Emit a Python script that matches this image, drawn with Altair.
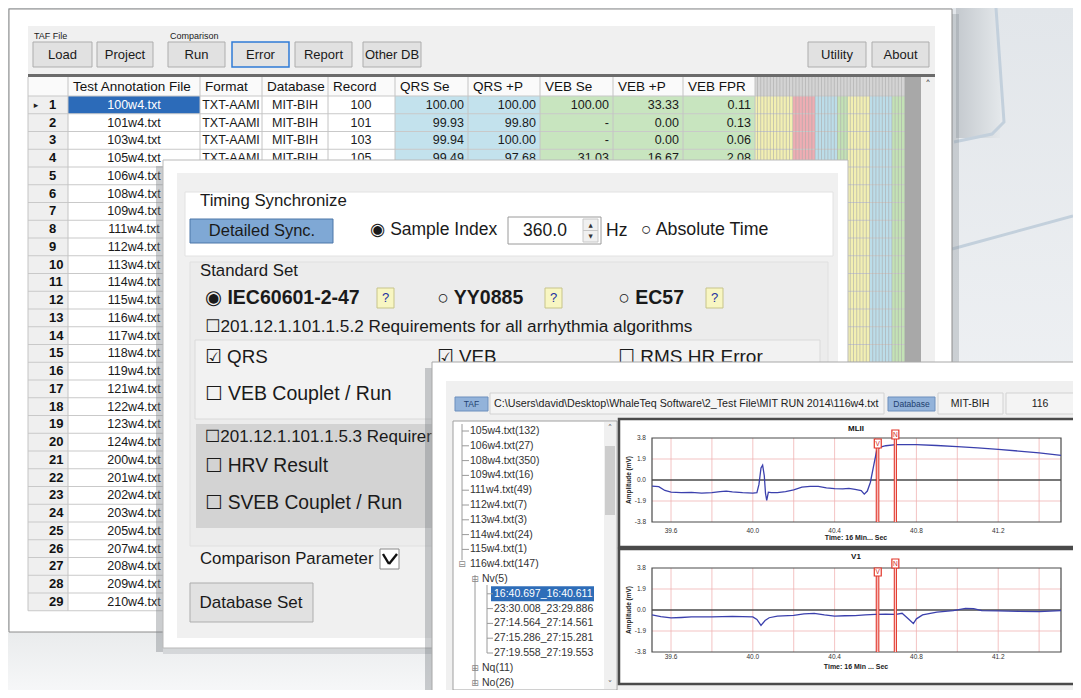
import altair as alt
import pandas as pd
import numpy as np

UI = "Liberation Sans, Arial, sans-serif"
SYM = "DejaVu Sans, Liberation Sans, sans-serif"

# ---------------- data ----------------
group_labels = ["TAF File", "Comparison"]
toolbar_buttons = ["Load", "Project", "Run", "Error", "Report", "Other DB", "Utility", "About"]
table_headers = ["Test Annotation File", "Format", "Database", "Record",
                 "QRS Se", "QRS +P", "VEB Se", "VEB +P", "VEB FPR"]
file_names = ["100w4.txt", "101w4.txt", "103w4.txt", "105w4.txt", "106w4.txt", "108w4.txt",
              "109w4.txt", "111w4.txt", "112w4.txt", "113w4.txt", "114w4.txt", "115w4.txt",
              "116w4.txt", "117w4.txt", "118w4.txt", "119w4.txt", "121w4.txt", "122w4.txt",
              "123w4.txt", "124w4.txt", "200w4.txt", "201w4.txt", "202w4.txt", "203w4.txt",
              "205w4.txt", "207w4.txt", "208w4.txt", "209w4.txt", "210w4.txt"]
record_ids = ["100", "101", "103", "105"]
data_format = ["TXT-AAMI", "TXT-AAMI", "TXT-AAMI", "TXT-AAMI"]
database = ["MIT-BIH", "MIT-BIH", "MIT-BIH", "MIT-BIH"]
qrs_se = ["100.00", "99.93", "99.94", "99.49"]
qrs_p = ["100.00", "99.80", "100.00", "97.68"]
veb_se = ["100.00", "-", "-", "31.03"]
veb_p = ["33.33", "0.00", "0.00", "16.67"]
veb_fpr = ["0.11", "0.13", "0.06", "2.08"]
stripe_colors = ["#f2efb2", "#eeadb3", "#bcdde9", "#c3e2b5", "#f2efb2", "#bcdde9", "#c3e2b5"]

tree_items = [(0, "105w4.txt(132)"), (0, "106w4.txt(27)"), (0, "108w4.txt(350)"),
              (0, "109w4.txt(16)"), (0, "111w4.txt(49)"), (0, "112w4.txt(7)"),
              (0, "113w4.txt(3)"), (0, "114w4.txt(24)"), (0, "115w4.txt(1)"),
              (0, "116w4.txt(147)"), (1, "Nv(5)"), (2, "16:40.697_16:40.611"),
              (2, "23:30.008_23:29.886"), (2, "27:14.564_27:14.561"),
              (2, "27:15.286_27:15.281"), (2, "27:19.558_27:19.553"),
              (1, "Nq(11)"), (1, "No(26)")]
taf_path = r"C:\Users\david\Desktop\WhaleTeq Software\2_Test File\MIT RUN 2014\116w4.txt"
lead_names = ["MLII", "V1"]
time_ticks = [39.6, 40.0, 40.4, 40.8, 41.2]
time_grid = [39.6, 39.8, 40.0, 40.2, 40.4, 40.6, 40.8, 41.0, 41.2, 41.4]
amp_ticks = [3.8, 1.9, 0.0, -1.9, -3.8]
marker_times = [40.611, 40.697]
marker_labels = ["V", "N"]

mlii_t = [39.507, 39.54, 39.57, 39.60, 39.65, 39.70, 39.75, 39.80, 39.84, 39.87, 39.90, 39.95,
          40.00, 40.02, 40.03, 40.04, 40.048, 40.056, 40.062, 40.068, 40.076, 40.09, 40.12,
          40.16, 40.20, 40.24, 40.28, 40.32, 40.36, 40.40, 40.44, 40.47, 40.50, 40.53, 40.545,
          40.56, 40.575, 40.59, 40.605, 40.62, 40.65, 40.70, 40.80, 40.90, 41.00, 41.10, 41.20,
          41.30, 41.40, 41.507]
mlii_v = [-0.55, -0.60, -0.95, -1.10, -1.15, -1.12, -1.18, -1.15, -1.05, -1.00, -1.08, -1.15,
          -1.18, -1.15, -0.40, 1.10, 1.35, 0.40, -1.20, -1.85, -1.10, -1.15, -1.15,
          -1.05, -0.90, -0.65, -0.58, -0.58, -0.72, -0.78, -0.80, -0.75, -0.85, -0.95, -1.28,
          -1.00, -0.20, 1.20, 2.60, 2.95, 3.10, 3.20, 3.20, 3.12, 3.02, 2.90, 2.78,
          2.62, 2.45, 2.22]
v1_t = [39.507, 39.55, 39.60, 39.65, 39.70, 39.80, 39.90, 40.00, 40.02, 40.04, 40.06, 40.08,
        40.12, 40.20, 40.25, 40.30, 40.35, 40.40, 40.45, 40.50, 40.55, 40.60, 40.65, 40.70,
        40.73, 40.76, 40.785, 40.80, 40.83, 40.90, 40.98, 41.04, 41.08, 41.12, 41.20, 41.30,
        41.40, 41.507]
v1_v = [-0.45, -0.60, -0.72, -0.68, -0.62, -0.62, -0.58, -0.62, -0.85, -1.40, -0.95, -0.70,
        -0.55, -0.48, -0.35, -0.30, -0.45, -0.55, -0.52, -0.50, -0.45, -0.40, -0.38, -0.40,
        -0.30, -0.80, -1.22, -0.80, -0.45, -0.20, -0.05, 0.15, 0.12, -0.05, -0.08, -0.12,
        -0.15, -0.05]

# ---------------- scales & helpers ----------------
PX = alt.Scale(domain=[8, 1073], range=[0, 1065], nice=False, zero=False)
PY = alt.Scale(domain=[8, 690], range=[0, 682], nice=False, zero=False)
T_DOM = [39.507, 41.507]
T_RANGE = [652 - 8, 1061 - 8]


def px(f="x"):
    return alt.X(f"{f}:Q", scale=PX, axis=None)


def py(f="y"):
    return alt.Y(f"{f}:Q", scale=PY, axis=None)


def R(x, x2, y, y2, fill, stroke="transparent", sw=0.0, op=1.0):
    return dict(x=x, x2=x2, y=y, y2=y2, fill=fill, stroke=stroke, sw=sw, op=op)


def TX(x, y, t, s, c="#1a1a1a"):
    return dict(x=x, y=y, t=t, s=s, c=c)


def L(x, x2, y, y2, c, w=1.0):
    return dict(x=x, x2=x2, y=y, y2=y2, c=c, w=w)


def rect_layer(rows):
    return alt.Chart(pd.DataFrame(rows)).mark_rect().encode(
        x=px(), x2=alt.X2("x2"), y=py(), y2=alt.Y2("y2"),
        fill=alt.Fill("fill:N", scale=None, legend=None),
        stroke=alt.Stroke("stroke:N", scale=None, legend=None),
        strokeWidth=alt.StrokeWidth("sw:Q", scale=None, legend=None),
        opacity=alt.Opacity("op:Q", scale=None, legend=None))


def text_layer(rows, align="left", weight="normal", font=UI, angle=0):
    return alt.Chart(pd.DataFrame(rows)).mark_text(
        align=align, baseline="middle", fontWeight=weight, font=font, angle=angle).encode(
        x=px(), y=py(), text=alt.Text("t:N"),
        size=alt.Size("s:Q", scale=None, legend=None),
        color=alt.Color("c:N", scale=None, legend=None))


def rule_layer(rows):
    return alt.Chart(pd.DataFrame(rows)).mark_rule().encode(
        x=px(), x2=alt.X2("x2"), y=py(), y2=alt.Y2("y2"),
        color=alt.Color("c:N", scale=None, legend=None),
        strokeWidth=alt.StrokeWidth("w:Q", scale=None, legend=None))


def grad(c1, c2, horizontal=True):
    return alt.LinearGradient(gradient="linear",
                              stops=[alt.GradientStop(color=c1, offset=0),
                                     alt.GradientStop(color=c2, offset=1)],
                              x1=0, y1=0, x2=1 if horizontal else 0, y2=0 if horizontal else 1)


def grad_rect(x, x2, y, y2, c1, c2, horizontal=True, op=1.0):
    return alt.Chart(pd.DataFrame([dict(x=x, x2=x2, y=y, y2=y2)])).mark_rect(
        fill=grad(c1, c2, horizontal), opacity=op).encode(
        x=px(), x2=alt.X2("x2"), y=py(), y2=alt.Y2("y2"))


layers = []

# ---------------- background ----------------
layers.append(grad_rect(8, 1073, 8, 690, "#cdd1d4", "#eef0f2"))
layers.append(grad_rect(8, 440, 630, 690, "#e9ebec", "#f6f7f8", horizontal=False))
layers.append(grad_rect(952, 1073, 8, 690, "#e2e6ea", "#f7f8fa", horizontal=False))
layers.append(grad_rect(956, 1000, 8, 138, "#c4c9ce", "#e3e7ea"))
edge_pts = pd.DataFrame(dict(
    x=[996, 1004, 992, 954, 952, 1073],
    y=[8, 122, 134, 142, 249, 216],
    g=["a", "a", "a", "a", "b", "b"],
    o=[0, 1, 2, 3, 0, 1]))
layers.append(alt.Chart(edge_pts).mark_line(color="#c3d0dc", strokeWidth=3).encode(
    x=px(), y=py(), detail="g:N", order="o:Q"))

# ---------------- main window ----------------
ROW0, RH = 96.0, 17.75
row_c = [ROW0 + (i + 0.5) * RH for i in range(len(file_names))]
TB = ROW0 + len(file_names) * RH
col_edges = [28, 68, 200, 262, 328, 395, 468, 540, 613, 683, 755]
btn_x = [(33, 92), (97, 153), (168, 225), (232, 289), (295, 352), (363, 421), (808, 866), (872, 929)]
stripe_x = [755, 793, 815, 837, 848, 870, 892, 905]

r1 = [R(952, 959, 14, 636, "#8d949a", op=0.35),
      R(9, 952, 9, 632, "#ffffff", "#8c8c8c", 1),
      R(28, 935, 26, 74, "#f0f0f0")]
for (a, b), name in zip(btn_x, toolbar_buttons):
    if name == "Error":
        r1.append(R(a, b, 42, 67, "#e3e3e3", "#2f7bd6", 1.5))
    else:
        r1.append(R(a, b, 42, 67, "#e1e1e1", "#adadad", 1))
r1 += [R(28, 935, 74, 77, "#6b6b6b"),
       R(28, 905, 77, 96, "#fafafa"),
       R(28, 68, 96, TB, "#efefef"),
       R(68, 200, 96, 96 + RH, "#2c6bb9"),
       R(395, 540, 96, TB, "#c3e2ed"),
       R(540, 755, 96, TB, "#c8e5bf")]
for i, col in enumerate(stripe_colors):
    r1.append(R(stripe_x[i], stripe_x[i + 1], 96, TB, col))
r1 += [R(755, 905, 77, 96, "#d4d4d4"),
       R(905, 921, 77, 628, "#a8a8a8"),
       R(921, 935, 77, 628, "#f0f0f0")]
layers.append(rect_layer(r1))

l1 = []
for k in range(len(file_names) + 1):
    l1.append(L(28, 905, ROW0 + k * RH, ROW0 + k * RH, "#c9c9c9", 1))
for xe in col_edges:
    l1.append(L(xe, xe, 77, TB, "#c4c4c4", 1))
for xs in np.arange(757.5, 905, 3.2):
    l1.append(L(float(xs), float(xs), 77, TB, "#a9a9a9", 0.6))
layers.append(rule_layer(l1))

t1c = [TX((a + b) / 2, 55, name, 13) for (a, b), name in zip(btn_x, toolbar_buttons)]
t1l = [TX(34, 36, group_labels[0], 9), TX(170, 36, group_labels[1], 9)]
for j, h in enumerate(table_headers):
    t1l.append(TX(col_edges[j + 1] + 5, 87, h, 13.5, "#111111"))
for i, f in enumerate(file_names):
    t1c.append(TX(134, row_c[i], f, 12.5, "#ffffff" if i == 0 else "#1a1a1a"))
for i in range(len(record_ids)):
    t1c.append(TX(231, row_c[i], data_format[i], 12.5))
    t1c.append(TX(295, row_c[i], database[i], 12.5))
    t1c.append(TX(361, row_c[i], record_ids[i], 12.5))
t1r = []
for i in range(len(qrs_se)):
    for edge, vals in zip([468, 540, 613, 683, 755], [qrs_se, qrs_p, veb_se, veb_p, veb_fpr]):
        t1r.append(TX(edge - 4, row_c[i], vals[i], 12.5))
t1b = [TX(49, row_c[i], str(i + 1), 13, "#111111") for i in range(len(file_names))]
layers += [text_layer(t1l), text_layer(t1c, "center"), text_layer(t1r, "right"),
           text_layer(t1b, weight="bold"),
           text_layer([TX(36, row_c[0], "▸", 9, "#222222"), TX(928, 85, "˄", 11, "#555555")],
                      "center", font=SYM)]

# ---------------- dialog window ----------------
r2 = [R(156, 163, 166, 652, "#7d8388", op=0.4),
      R(163, 852, 648, 654, "#9aa0a5", op=0.3),
      R(163, 848, 160, 648, "#ffffff", "#b9b9b9", 1),
      R(177, 838, 173, 638, "#f0f0f0"),
      R(185, 833, 192, 256, "#ffffff", "#e2e2e2", 1),
      R(190, 828, 262, 546, "#ececec", "#e0e0e0", 1),
      R(195, 820, 340, 419, "#f2f2f2", "#dadada", 1),
      R(196, 818, 424, 528, "#d3d3d3"),
      R(190, 333, 219, 243, "#7fa8d5", "#4d77a8", 1),
      R(508, 601, 217, 244, "#ffffff", "#9a9a9a", 1),
      R(583, 598, 219, 242, "#f0f0f0", "#c8c8c8", 1),
      R(377, 394, 288, 308, "#f8f6c2", "#c7c48a", 1),
      R(545, 562, 288, 308, "#f8f6c2", "#c7c48a", 1),
      R(706, 723, 288, 308, "#f8f6c2", "#c7c48a", 1),
      R(380, 399, 549, 569, "#ffffff", "#8a8a8a", 1),
      R(190, 313, 583, 622, "#e1e1e1", "#adadad", 1)]
layers.append(rect_layer(r2))
layers.append(rule_layer([L(583, 598, 230.5, 230.5, "#c8c8c8", 1),
                          L(383, 389, 554, 564, "#111111", 2.4),
                          L(389, 397, 564, 554, "#111111", 2.4)]))
t2l = [TX(200, 201, "Timing Synchronize", 16.8),
       TX(606, 231, "Hz", 17.5),
       TX(200, 271, "Standard Set", 16.8),
       TX(200, 559, "Comparison Parameter", 16.8)]
t2s = [TX(370, 230, "◉ Sample Index", 17.5),
       TX(641, 230, "○ Absolute Time", 17.8),
       TX(205, 327, "☐201.12.1.101.1.5.2 Requirements for all arrhythmia algorithms", 17.2),
       TX(205, 357, "☑ QRS", 18.8), TX(437, 357, "☑ VEB", 18.8),
       TX(618, 357, "☐ RMS HR Error", 19),
       TX(205, 394, "☐ VEB Couplet / Run", 19.5),
       TX(205, 437, "☐201.12.1.101.1.5.3 Requirements", 17),
       TX(205, 466, "☐ HRV Result", 19.3),
       TX(205, 503, "☐ SVEB Couplet / Run", 19.3)]
t2b = [TX(205, 298, "◉ IEC60601-2-47", 19.5),
       TX(437, 298, "○ YY0885", 19.5),
       TX(618, 298, "○ EC57", 19.5)]
t2c = [TX(262, 231, "Detailed Sync.", 16.5),
       TX(545, 231, "360.0", 17.5),
       TX(251, 603, "Database Set", 17),
       TX(385.5, 298, "?", 13, "#2530a0"), TX(553.5, 298, "?", 13, "#2530a0"),
       TX(714.5, 298, "?", 13, "#2530a0")]
layers += [text_layer(t2l), text_layer(t2s, font="Liberation Sans, DejaVu Sans, sans-serif"),
           text_layer(t2b, weight="bold", font="Liberation Sans, DejaVu Sans, sans-serif"),
           text_layer(t2c, "center"),
           text_layer([TX(590.5, 225, "▲", 5.5, "#333333"), TX(590.5, 236, "▼", 5.5, "#333333")],
                      "center", font=SYM)]

# ---------------- ECG window ----------------
TY0, TDY = 431.0, 14.8
tree_y = [TY0 + k * TDY for k in range(len(tree_items))]
lvl_x = [470, 482, 494]
r3 = [R(425, 432, 368, 690, "#6f757a", op=0.35),
      R(432, 1081, 362, 698, "#ffffff", "#a8a8a8", 1),
      R(446, 1078, 381, 698, "#f0f0f0"),
      R(455, 488, 397, 411, "#93b3da", "#6d8fbd", 1),
      R(490, 884, 393, 414, "#f4f4f4", "#d2d2d2", 1),
      R(888, 935, 397, 411, "#93b3da", "#6d8fbd", 1),
      R(938, 1003, 393, 414, "#f4f4f4", "#d2d2d2", 1),
      R(1006, 1075, 393, 414, "#f4f4f4", "#d2d2d2", 1),
      R(453, 617, 421, 690, "#ffffff", "#a0a0a0", 1),
      R(604, 616, 422, 689, "#f0f0f0"),
      R(605, 615, 446, 515, "#cdcdcd"),
      R(491, 594, tree_y[11] - 7.5, tree_y[11] + 7.5, "#2e6db8"),
      R(619, 1076, 419, 547, "#ffffff", "#4a4a4a", 2.5),
      R(619, 1076, 549, 684, "#ffffff", "#4a4a4a", 2.5)]
layers.append(rect_layer(r3))

l3 = [L(462, 462, 424, tree_y[9] - 4, "#9a9a9a", 1),
      L(475, 475, tree_y[10] - 4, tree_y[17], "#9a9a9a", 1),
      L(487, 487, tree_y[10] + 6, tree_y[15], "#9a9a9a", 1)]
for (lv, name), yy in zip(tree_items, tree_y):
    if lv == 0 and not name.startswith("116"):
        l3.append(L(462, 469, yy, yy, "#9a9a9a", 1))
    if lv == 2:
        l3.append(L(487, 493, yy, yy, "#9a9a9a", 1))
layers.append(rule_layer(l3))

t3l = [TX(494, 404, taf_path, 10.7, "#222222")]
for (lv, name), yy in zip(tree_items, tree_y):
    t3l.append(TX(lvl_x[lv], yy, name, 10.5, "#ffffff" if name.startswith("16:40") else "#333333"))
t3c = [TX(471.5, 404, "TAF", 8.5, "#21406f"), TX(911.5, 404, "Database", 8.5, "#21406f"),
       TX(970, 404, "MIT-BIH", 10.5, "#222222"), TX(1040, 404, "116", 10.5, "#222222")]
t3s = [TX(462, tree_y[9], "⊟", 9, "#888888"), TX(475, tree_y[10], "⊟", 9, "#888888"),
       TX(475, tree_y[16], "⊞", 9, "#888888"), TX(475, tree_y[17], "⊞", 9, "#888888"),
       TX(610, 428, "˄", 9, "#666666"), TX(610, 684, "˅", 9, "#666666")]
layers += [text_layer(t3l), text_layer(t3c, "center"), text_layer(t3s, "center", font=SYM)]


def ex(f="t"):
    return alt.X(f"{f}:Q", scale=alt.Scale(domain=T_DOM, range=T_RANGE, nice=False, zero=False),
                 axis=None)


def ey(panel, f="v"):
    top, bot = panel
    return alt.Y(f"{f}:Q", scale=alt.Scale(domain=[-3.8, 3.8], range=[bot - 8, top - 8],
                                            nice=False, zero=False), axis=None)


panels = [dict(area=(438, 522), tick_y=531, title_y=429, xt_y=538, xt="Time: 16 Min... Sec",
               box=[(439, 448), (430, 439)], t=mlii_t, v=mlii_v),
          dict(area=(568, 652), tick_y=657, title_y=557, xt_y=667, xt="Time: 16 Min ... Sec",
               box=[(568, 576), (559, 568)], t=v1_t, v=v1_v)]

for name, p in zip(lead_names, panels):
    area = p["area"]
    vg = pd.DataFrame(dict(t=time_grid, lo=-3.8, hi=3.8))
    layers.append(alt.Chart(vg).mark_rule(color="#f0b4b4", strokeWidth=0.8).encode(
        x=ex(), y=ey(area, "lo"), y2=alt.Y2("hi")))
    hg = pd.DataFrame(dict(v=[1.9, -1.9], a=T_DOM[0], b=T_DOM[1]))
    layers.append(alt.Chart(hg).mark_rule(color="#f0b4b4", strokeWidth=0.8).encode(
        x=ex("a"), x2=alt.X2("b"), y=ey(area)))
    zg = pd.DataFrame(dict(v=[0.0], a=T_DOM[0], b=T_DOM[1]))
    layers.append(alt.Chart(zg).mark_rule(color="#4a4a4a", strokeWidth=1.6).encode(
        x=ex("a"), x2=alt.X2("b"), y=ey(area)))
    fr = pd.DataFrame(dict(a=[T_DOM[0]], b=[T_DOM[1]], lo=[-3.8], hi=[3.8]))
    layers.append(alt.Chart(fr).mark_rect(fillOpacity=0, stroke="#4a4a4a", strokeWidth=1.2).encode(
        x=ex("a"), x2=alt.X2("b"), y=ey(area, "lo"), y2=alt.Y2("hi")))
    sig = pd.DataFrame(dict(t=p["t"], v=p["v"]))
    layers.append(alt.Chart(sig).mark_line(color="#3b40ad", strokeWidth=1.3).encode(
        x=ex(), y=ey(area)))
    mk = pd.DataFrame(dict(t=marker_times, top=[b[0] for b in p["box"]], bot=[area[1]] * 2))
    layers.append(alt.Chart(mk).mark_rule(color="#e2372b", strokeWidth=3.2).encode(
        x=ex(), y=py("top"), y2=alt.Y2("bot")))
    layers.append(alt.Chart(mk).mark_rule(color="#ffe8e8", strokeWidth=1.0).encode(
        x=ex(), y=py("top"), y2=alt.Y2("bot")))
    bx = pd.DataFrame(dict(a=[m - 0.017 for m in marker_times], b=[m + 0.017 for m in marker_times],
                           y=[b[0] for b in p["box"]], y2=[b[1] for b in p["box"]],
                           t=marker_times, lab=marker_labels,
                           ym=[(b[0] + b[1]) / 2 for b in p["box"]]))
    layers.append(alt.Chart(bx).mark_rect(fill="#ffffff", stroke="#e2372b", strokeWidth=1.2).encode(
        x=ex("a"), x2=alt.X2("b"), y=py(), y2=alt.Y2("y2")))
    layers.append(alt.Chart(bx).mark_text(fontSize=6.5, color="#d0281e", font=UI).encode(
        x=ex(), y=py("ym"), text="lab:N"))
    tk = pd.DataFrame(dict(t=time_ticks, y=p["tick_y"], lab=[f"{v:.1f}" for v in time_ticks]))
    layers.append(alt.Chart(tk).mark_text(fontSize=6.5, color="#333333", font=UI).encode(
        x=ex(), y=py(), text="lab:N"))
    at = pd.DataFrame(dict(v=amp_ticks, x=646, lab=[f"{v:.1f}" for v in amp_ticks]))
    layers.append(alt.Chart(at).mark_text(fontSize=6.5, color="#333333", font=UI, align="right").encode(
        x=px(), y=ey(area), text="lab:N"))
    layers.append(text_layer([TX(856, p["title_y"], name, 8, "#111111"),
                              TX(856, p["xt_y"], p["xt"], 7, "#222222")], "center", weight="bold"))
    layers.append(text_layer([TX(629, (area[0] + area[1]) / 2, "Amplitude (mV)", 6.5, "#222222")],
                             "center", weight="bold", angle=270))

chart = alt.layer(*layers).resolve_scale(x="independent", y="independent").properties(
    width=1065, height=682, autosize="none", padding=0, background="#ffffff"
).configure_view(stroke=None)

chart.save("out.html", embed_options={"renderer": "svg", "actions": False})
